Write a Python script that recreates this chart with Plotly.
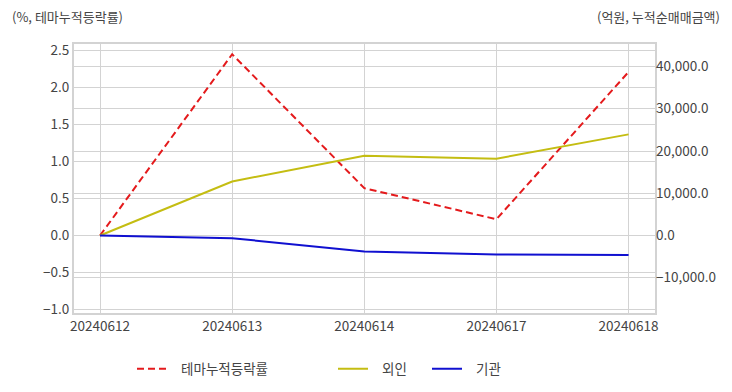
import plotly.graph_objects as go

dates = ["20240612", "20240613", "20240614", "20240617", "20240618"]
theme_rate = [0.0, 2.45, 0.64, 0.22, 2.21]
foreign = [0.0, 12780.0, 18890.0, 18190.0, 23930.0]
institution = [0.0, -640.0, -3770.0, -4470.0, -4640.0]

left_ticks = [2.5, 2.0, 1.5, 1.0, 0.5, 0.0, -0.5, -1.0]
right_ticks = [40000, 30000, 20000, 10000, 0, -10000]

FONT = "Noto Sans CJK KR"
TXT = "#444444"
GRID = "#d3d3d3"
NB = "\u00a0\u00a0\u00a0"

fig = go.Figure()
fig.add_trace(go.Scatter(x=dates, y=theme_rate, name=NB + "테마누적등락률", mode="lines",
                         line=dict(color="#e41a1c", width=2, dash="7px,4px"), legend="legend"))
fig.add_trace(go.Scatter(x=dates, y=foreign, name=NB + "외인", mode="lines", yaxis="y2",
                         line=dict(color="#c4bd12", width=2), legend="legend2"))
fig.add_trace(go.Scatter(x=dates, y=institution, name=NB + "기관", mode="lines", yaxis="y2",
                         line=dict(color="#1010d0", width=2), legend="legend3"))

L, R, T, B = 74, 77, 44, 79
W, H = 732, 392
pw, ph = W - L - R, H - T - B

def lx(px):
    return (px - L) / pw

ly = (313 - 369) / ph

leg_common = dict(orientation="h", yanchor="middle", y=ly, xanchor="left",
                  font=dict(family=FONT, size=13.5, color=TXT), bgcolor="rgba(0,0,0,0)")

fig.update_layout(
    width=W, height=H,
    margin=dict(l=L, r=R, t=T, b=B, autoexpand=False),
    showlegend=True,
    paper_bgcolor="white", plot_bgcolor="white",
    font=dict(family=FONT, size=13.5, color=TXT),
    xaxis=dict(type="category", range=[-0.197, 4.2], showgrid=True, gridcolor=GRID,
               showline=True, linecolor=GRID, linewidth=2, mirror=True, ticks="",
               tickfont=dict(size=13.5, color=TXT), zeroline=False, automargin=False),
    yaxis=dict(range=[-1.047, 2.588], tickvals=left_ticks, tickformat=".1f",
               showgrid=True, gridcolor=GRID, zeroline=False, showline=True,
               linecolor=GRID, linewidth=2, mirror=True, tickfont=dict(size=13.5, color=TXT),
               automargin=False),
    yaxis2=dict(range=[-18343, 45325], tickvals=right_ticks, tickformat=",.1f",
                overlaying="y", side="right", showgrid=True, gridcolor=GRID,
                zeroline=False, tickfont=dict(size=13.5, color=TXT), automargin=False),
    legend=dict(x=lx(132), **leg_common),
    legend2=dict(x=lx(333), **leg_common),
    legend3=dict(x=lx(427), **leg_common),
    annotations=[
        dict(text="(%, 테마누적등락률)", xref="paper", yref="paper", x=(10 - L) / pw, y=1 + 28 / ph,
             xanchor="left", yanchor="middle", showarrow=False,
             font=dict(family=FONT, size=13, color=TXT)),
        dict(text="(억원, 누적순매매금액)", xref="paper", yref="paper", x=(722 - L) / pw, y=1 + 28 / ph,
             xanchor="right", yanchor="middle", showarrow=False,
             font=dict(family=FONT, size=13, color=TXT)),
    ],
)

fig.write_html("out.html", config={"displayModeBar": False},
               post_script="document.body.style.margin='0';")
